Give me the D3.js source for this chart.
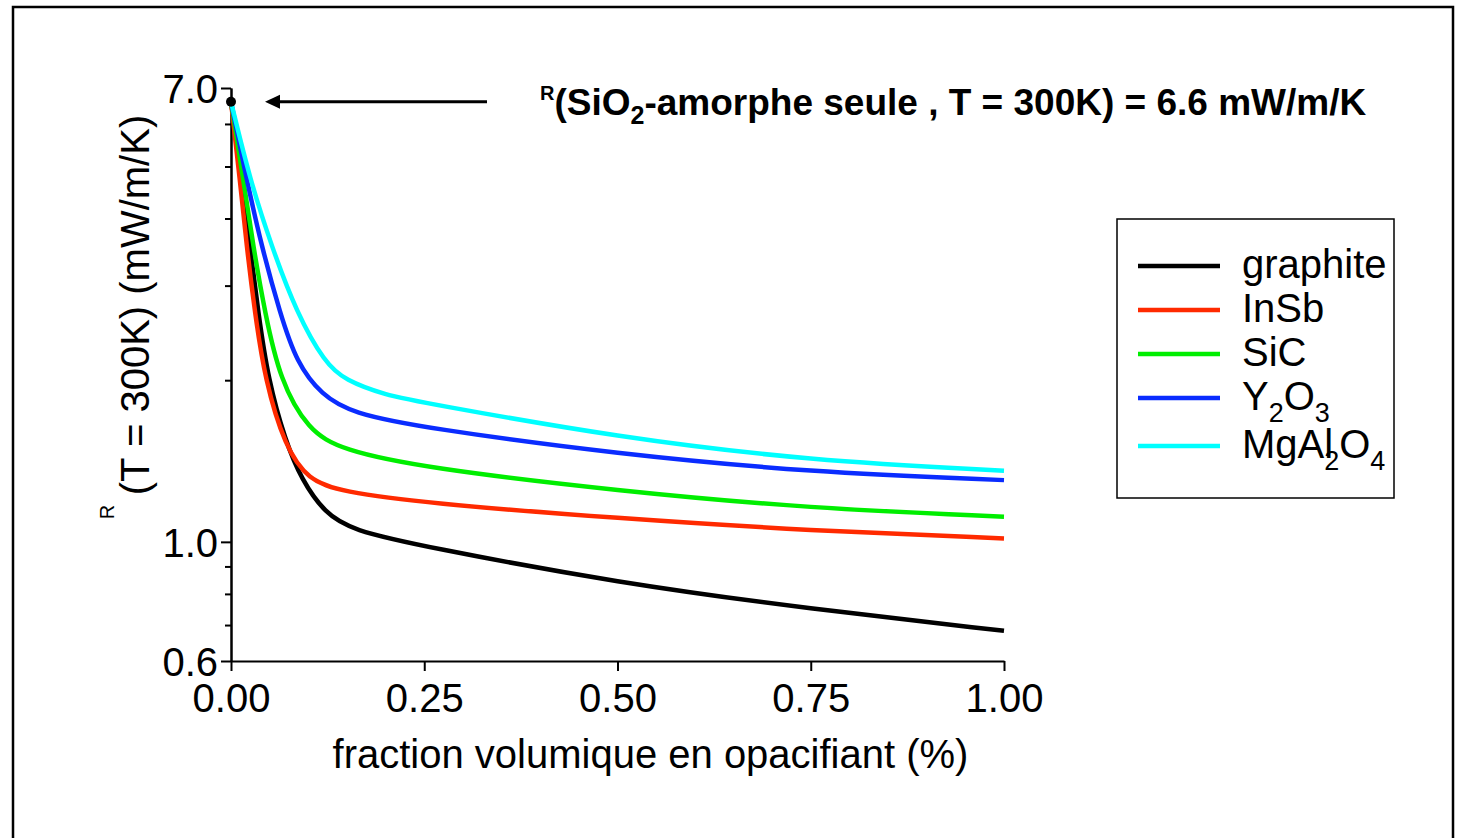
<!DOCTYPE html>
<html lang="fr">
<head>
<meta charset="UTF-8" />
<title>Conductivité radiative</title>
<script src="https://d3js.org/d3.v7.min.js"></script>
<style>
  body { margin: 0; background: #fff; }
  svg { display: block; font-family: "Liberation Sans", Arial, Helvetica, sans-serif; }
  .axis path, .axis line { stroke: #000; stroke-width: 2; }
  .axis text { font-size: 40px; fill: #000; font-family: "Liberation Sans", Arial, sans-serif; }
</style>
</head>
<body>
<svg id="chart" width="1458" height="838"></svg>
<script>
  // valeurs : [fraction volumique (%), conductivité radiative (mW/m/K)]
  const graphite = [[0, 6.6], [0.014, 4.72], [0.0246, 3.545], [0.0353, 2.667], [0.0483, 2.0], [0.0699, 1.548], [0.0915, 1.303], [0.1216, 1.131], [0.1561, 1.052], [0.251, 0.979], [0.5, 0.839], [0.75, 0.75], [1, 0.683]];
  const insb = [[0, 6.6], [0.0116, 4.72], [0.0203, 3.545], [0.031, 2.667], [0.044, 2.0], [0.0699, 1.504], [0.1, 1.303], [0.1432, 1.24], [0.251, 1.181], [0.5, 1.106], [0.75, 1.049], [1, 1.015]];
  const sic = [[0, 6.6], [0.016, 4.72], [0.0288, 3.545], [0.044, 2.667], [0.0634, 2.0], [0.0996, 1.615], [0.1432, 1.483], [0.251, 1.373], [0.5, 1.245], [0.75, 1.154], [1, 1.114]];
  const y2o3 = [[0, 6.6], [0.0203, 4.72], [0.0397, 3.545], [0.0634, 2.667], [0.085, 2.153], [0.1173, 1.877], [0.1561, 1.737], [0.251, 1.629], [0.5, 1.457], [0.75, 1.348], [1, 1.303]];
  const mgal2o4 = [[0, 6.6], [0.0246, 4.72], [0.0527, 3.545], [0.085, 2.667], [0.1216, 2.153], [0.1475, 2.0], [0.1992, 1.877], [0.251, 1.814], [0.5, 1.565], [0.75, 1.416], [1, 1.357]];

  const seriesNames = ["graphite", "InSb", "SiC", "Y2O3", "MgAl2O4"];
  const seriesData = [graphite, insb, sic, y2o3, mgal2o4];
  const colors = ["#000000", "#ff2a00", "#00ee00", "#0a2cff", "#00ffff"];

  const xTicks = [0, 0.25, 0.5, 0.75, 1];
  const yMajorTicks = [0.6, 1.0, 7.0];
  const yMinorTicks = [0.7, 0.8, 0.9, 2, 3, 4, 5, 6];
  const silicaAlone = 6.6;

  const svg = d3.select("#chart");

  // cadre
  svg.append("rect")
    .attr("x", 13).attr("y", 7)
    .attr("width", 1440).attr("height", 860)
    .attr("fill", "none").attr("stroke", "#000").attr("stroke-width", 2.5);

  const x = d3.scaleLinear().domain([0, 1]).range([231, 1004]);
  const y = d3.scaleLog().domain([0.6, 7]).range([661, 88]);

  // axe des x
  svg.append("g")
    .attr("class", "axis")
    .attr("transform", "translate(0,661)")
    .call(d3.axisBottom(x).tickValues(xTicks).tickSize(10).tickSizeOuter(0)
      .tickPadding(13).tickFormat(d3.format(".2f")));

  // axe des y : graduations mineures puis majeures
  svg.append("g")
    .attr("class", "axis")
    .attr("transform", "translate(231,0)")
    .call(d3.axisLeft(y).tickValues(yMinorTicks).tickSize(6).tickSizeOuter(0).tickFormat(""));
  svg.append("g")
    .attr("class", "axis")
    .attr("transform", "translate(231,0)")
    .call(d3.axisLeft(y).tickValues(yMajorTicks).tickSize(10).tickSizeOuter(0)
      .tickPadding(3).tickFormat(d3.format(".1f")))
    .selectAll("text").attr("dy", "0.36em");

  // courbes (lissées)
  const line = d3.line()
    .x(d => x(d[0]))
    .y(d => y(d[1]))
    .curve(d3.curveBasis);

  svg.append("g")
    .selectAll("path")
    .data(seriesData)
    .join("path")
    .attr("d", line)
    .attr("fill", "none")
    .attr("stroke", (d, i) => colors[i])
    .attr("stroke-width", 4.5)
    .attr("stroke-linejoin", "round");

  // point SiO2 seule + flèche
  svg.append("circle")
    .attr("cx", x(0)).attr("cy", y(silicaAlone)).attr("r", 5).attr("fill", "#000");

  svg.append("line")
    .attr("x1", 487).attr("x2", 276)
    .attr("y1", y(silicaAlone)).attr("y2", y(silicaAlone))
    .attr("stroke", "#000").attr("stroke-width", 3);
  svg.append("path")
    .attr("d", `M265,${y(silicaAlone)} l15,-7 l0,14 z`)
    .attr("fill", "#000");

  const note = svg.append("text")
    .attr("x", 540).attr("y", 115)
    .attr("font-size", 37).attr("font-weight", "bold");
  note.append("tspan").attr("font-size", 20).attr("dy", -15).text("R");
  note.append("tspan").attr("dy", 15).text("(SiO");
  note.append("tspan").attr("font-size", 25).attr("dy", 9).text("2");
  note.append("tspan").attr("dy", -9).text("-amorphe seule , T = 300K) = 6.6 mW/m/K");

  // titres des axes
  svg.append("text")
    .attr("x", x(0.5) + 33).attr("y", 768)
    .attr("text-anchor", "middle")
    .attr("font-size", 40)
    .text("fraction volumique en opacifiant (%)");

  svg.append("text")
    .attr("transform", "translate(149,305) rotate(-90)")
    .attr("text-anchor", "middle")
    .attr("font-size", 40)
    .text("(T = 300K) (mW/m/K)");
  svg.append("text")
    .attr("transform", "translate(114,512) rotate(-90)")
    .attr("text-anchor", "middle")
    .attr("font-size", 20)
    .text("R");

  // légende
  const legend = svg.append("g");
  legend.append("rect")
    .attr("x", 1117).attr("y", 219).attr("width", 277).attr("height", 279)
    .attr("fill", "#fff").attr("stroke", "#000").attr("stroke-width", 1.5);

  const rows = legend.selectAll("g.row")
    .data(seriesNames)
    .join("g")
    .attr("class", "row")
    .attr("transform", (d, i) => `translate(0,${266 + i * 44 + (i === 4 ? 4 : 0)})`);

  rows.append("line")
    .attr("x1", 1138).attr("x2", 1220)
    .attr("stroke", (d, i) => colors[i])
    .attr("stroke-width", 4.5);

  const labels = rows.append("text")
    .attr("x", 1242).attr("y", 12)
    .attr("font-size", 40);

  labels.each(function (d) {
    const t = d3.select(this);
    // indices chimiques en tspan
    if (!/\d/.test(d)) { t.text(d); return; }
    let down = false;
    d.match(/[A-Za-z]+|\d/g).forEach(p => {
      if (/\d/.test(p)) {
        t.append("tspan").attr("font-size", 27).attr("dy", down ? 0 : 12)
          .attr("dx", d === "MgAl2O4" && p === "2" ? -9 : 0).text(p);
        down = true;
      } else {
        t.append("tspan").attr("dy", down ? -12 : 0).text(p);
        down = false;
      }
    });
  });
</script>
</body>
</html>
